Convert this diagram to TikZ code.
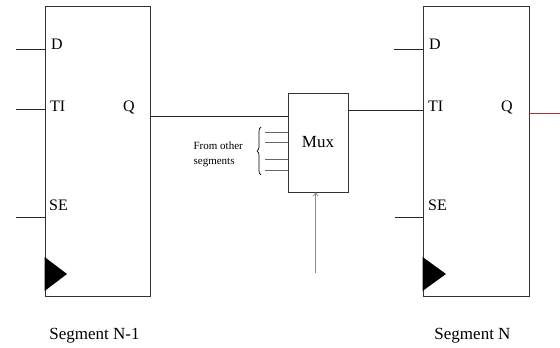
\documentclass[tikz,border=0pt]{standalone}
\usepackage{fontspec}
\setmainfont{Liberation Serif}
\usetikzlibrary{decorations.pathreplacing,arrows.meta}
\begin{document}
\begin{tikzpicture}[x=1pt,y=-1pt,
  ffbox/.style={draw=black!80,line width=0.9pt,rectangle,inner sep=0pt},
  wire/.style={draw=black!85,line width=0.8pt},
  pin/.style={font=\fontsize{16}{18}\selectfont,inner sep=0pt,anchor=base west},
  seglabel/.style={font=\fontsize{17}{19}\selectfont,inner sep=0pt},
  clk/.style={fill=black,draw=none}]
\useasboundingbox (0,0) rectangle (560,348);
% flip-flop boxes
\node[ffbox,minimum width=105pt,minimum height=290pt] (L) at (97.5,151) {};
\node[ffbox,minimum width=106pt,minimum height=290pt] (R) at (476,151) {};
\node[ffbox,minimum width=60pt,minimum height=99pt,font=\fontsize{17}{19}\selectfont] (M) at (318,142.5) {Mux};
% pin labels left
\node[pin] (LD) at (51,49) {D};
\node[pin] (LTI) at (50,111) {TI};
\node[pin] (LQ) at (123,111) {Q};
\node[pin] (LSE) at (49,210) {SE};
% pin labels right
\node[pin] (RD) at (429,49) {D};
\node[pin] (RTI) at (428,111) {TI};
\node[pin] (RQ) at (501,111) {Q};
\node[pin] (RSE) at (428,210) {SE};
% segment labels
\node[seglabel] (SL) at (94.5,336) {Segment N-1};
\node[seglabel] (SR) at (472.5,336) {Segment N};
% clock triangles
\fill[clk] (L.west |- 0,257) -- (67,274) -- (L.west |- 0,291) -- cycle;
\fill[clk] (R.west |- 0,257) -- (446,274) -- (R.west |- 0,291) -- cycle;
% free ends
\coordinate (lD) at (16,49);
\coordinate (lTI) at (16,109);
\coordinate (lSE) at (16,217);
\coordinate (rD) at (394,49);
\coordinate (rSE) at (395,217);
\coordinate (rOut) at (560,113);
\coordinate (sel) at (315.7,273);
% left inputs
\draw[wire] (lD) -- (L.west |- lD);
\draw[wire] (lTI) -- (L.west |- lTI);
\draw[wire] (lSE) -- (L.west |- lSE);
% right inputs
\draw[wire] (rD) -- (R.west |- rD);
\draw[wire] (rSE) -- (R.west |- rSE);
% Q to mux
\draw[wire] (L.east |- 0,116) -- (M.west |- 0,116);
% mux to TI
\draw[wire] (M.east |- 0,110) -- (R.west |- 0,110);
% output
\draw[draw=red!60!black!80,line width=0.8pt] (R.east |- rOut) -- (rOut);
% select
\draw[draw=black!45,line width=0.8pt,-{Straight Barb[length=3pt,width=5pt]}] (sel) -- (M.south -| sel);
% other inputs
\foreach \yy/\n in {132/a,142/b,159/c,170/d}{
  \coordinate (o\n) at (265,\yy);
  \draw[draw=black!60,line width=0.8pt] (o\n) -- (M.west |- o\n);
}
\draw[line width=0.7pt,decorate,decoration={brace,amplitude=4pt}] (261,175) -- (261,127);
\node[font=\fontsize{11}{14.5}\selectfont,align=left,anchor=east,inner sep=0pt] (FO) at (243,154.5) {From other\\segments};
\end{tikzpicture}
\end{document}
